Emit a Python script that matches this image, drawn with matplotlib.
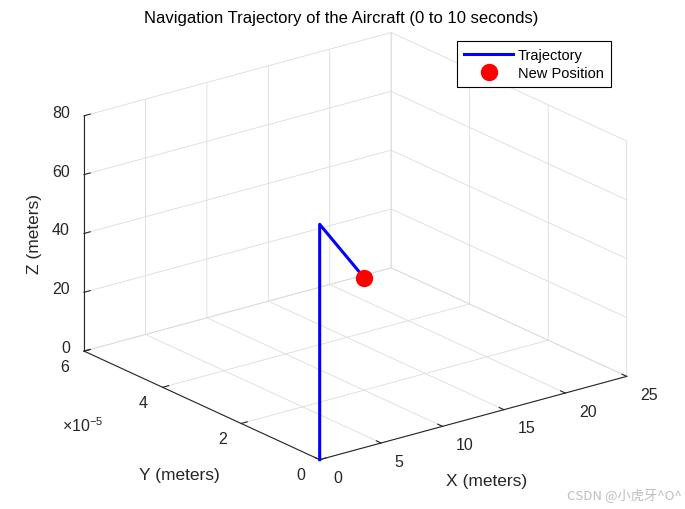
import numpy as np
import matplotlib
matplotlib.use('Agg')
import matplotlib.pyplot as plt
from mpl_toolkits.mplot3d import proj3d

plt.rcParams['font.family'] = ['Liberation Sans', 'Noto Sans CJK SC', 'DejaVu Sans']
plt.rcParams['mathtext.fontset'] = 'custom'
plt.rcParams['mathtext.rm'] = 'Liberation Sans'
plt.rcParams['grid.color'] = '#dcdcdc'
plt.rcParams['grid.linewidth'] = 0.6

# trajectory points (initial, climb, new position)
traj_x = [0, 0, 22.5]
traj_y = [0, 0, 5.9e-5]
traj_z = [0, 80, 0]
new_pos = [22.5, 5.9e-5, 0]

x_ticks = [0, 5, 10, 15, 20, 25]
x_labels = ['0', '5', '10', '15', '20', '25']
y_ticks = [0, 2e-5, 4e-5, 6e-5]
y_labels = ['0', '2', '4', '6']
z_ticks = [0, 20, 40, 60, 80]
z_labels = ['0', '20', '40', '60', '80']

W, H = 685, 510
TXT = '#262626'
fig = plt.figure(figsize=(W / 100, H / 100), dpi=100)
ax = fig.add_axes([0.1, 0.1, 0.8, 0.8], projection='3d')
ax.set_proj_type('ortho')
ax.view_init(elev=20.7, azim=-127.5)
ax.set_box_aspect((1, 1, 0.65))
ax.computed_zorder = False

ax.plot(traj_x, traj_y, traj_z, color='#0000ff', lw=2.2, label='Trajectory', zorder=2)
ax.plot([new_pos[0]], [new_pos[1]], [new_pos[2]], 'o', color='#ff0000', ms=11.5,
        label='New Position', zorder=3)

ax.set_xlim(0, 25)
ax.set_ylim(0, 6e-5)
ax.set_zlim(0, 80)
ax.set_xticks(x_ticks)
ax.set_yticks(y_ticks)
ax.set_zticks(z_ticks)

ax.tick_params(colors=TXT)
for axis in (ax.xaxis, ax.yaxis, ax.zaxis):
    axis.set_tick_params(label1On=False, label2On=False)
    axis.label.set_visible(False)
    axis.offsetText.set_visible(False)
    axis.set_pane_color((1, 1, 1, 0))
    axis.pane.set_edgecolor('#c4c4c4')
    axis.line.set_color(TXT)
    axis.line.set_linewidth(0.8)
    axis._axinfo['tick']['inward_factor'] = 0.0
    axis._axinfo['tick']['outward_factor'] = 0.25

# fit the projected box onto the reference pixel corners
fig.canvas.draw()
corners = np.array([[0, 0, 0], [25, 0, 0], [0, 6e-5, 0], [0, 0, 80], [25, 6e-5, 0]], float)
target = np.array([[319.3, 460.7], [626.7, 377.3], [84.3, 352.3], [319.3, 225.0], [391.7, 269.0]])
target[:, 1] = H - target[:, 1]
px, py, _ = proj3d.proj_transform(corners[:, 0], corners[:, 1], corners[:, 2], ax.M)
pix = ax.transData.transform(np.column_stack([px, py]))
bb = ax.bbox
cx, cy, L = (bb.x0 + bb.x1) / 2, (bb.y0 + bb.y1) / 2, bb.width
q = (pix - [cx, cy]) / L
A = np.zeros((2 * len(q), 3))
A[0::2, 0] = 1
A[1::2, 1] = 1
A[0::2, 2] = q[:, 0]
A[1::2, 2] = q[:, 1]
ncx, ncy, nL = np.linalg.lstsq(A, target.ravel(), rcond=None)[0]
ax.set_position([(ncx - nL / 2) / W, (ncy - nL / 2) / H, nL / W, nL / H])
fig.canvas.draw()


def label3d(x, y, z, s, dx, dy, **kw):
    # text at the projected data point, shifted by a pixel offset (MATLAB style)
    X, Y, _ = proj3d.proj_transform(x, y, z, ax.M)
    sx, sy = ax.transData.transform((X, Y))
    return fig.text((sx + dx) / W, (sy + dy) / H, s, color=TXT, **kw)


for v, s in zip(x_ticks, x_labels):
    label3d(v, 0, 0, s, 13.5, -18, ha='left', va='center', fontsize=11.5)
for v, s in zip(y_ticks, y_labels):
    label3d(0, v, 0, s, -14.5, -15.3, ha='right', va='center', fontsize=11.5)
for v, s in zip(z_ticks, z_labels):
    label3d(0, 6e-5, v, s, -14.3, 3.5, ha='right', va='center', fontsize=11.5)

label3d(12.5, 0, 0, 'X (meters)', 13.3, -62.7, ha='center', va='center', fontsize=12.5)
label3d(0, 3e-5, 0, 'Y (meters)', -22, -69.5, ha='center', va='center', fontsize=12.5)
label3d(0, 6e-5, 40, 'Z (meters)', -49.3, 0, ha='center', va='center', fontsize=12.5,
        rotation=90)
label3d(0, 3e-5, 0, r'$\mathregular{\times10^{-5}}$', -139.8, -19.5, ha='left',
        va='center', fontsize=11.5)

fig.suptitle('Navigation Trajectory of the Aircraft (0 to 10 seconds)', x=341 / W,
             y=1 - 18.5 / H, va='center', fontsize=12, color='#000000')

leg = ax.legend(loc='upper right', bbox_to_anchor=(611 / W, 1 - 41.5 / H),
                bbox_transform=fig.transFigure, borderaxespad=0, fontsize=10.5,
                fancybox=False, framealpha=1, edgecolor='#000000', handlelength=3.4,
                handletextpad=0.3, borderpad=0.5, labelspacing=0.3)
leg.get_frame().set_linewidth(0.8)

fig.text(682 / W, 1 - 495 / H, 'CSDN @小虎牙^O^', ha='right', va='center',
         fontsize=9.5, color='#bdbdbd', family=['Noto Sans CJK SC', 'DejaVu Sans'])

fig.savefig('out.png', dpi=100)
